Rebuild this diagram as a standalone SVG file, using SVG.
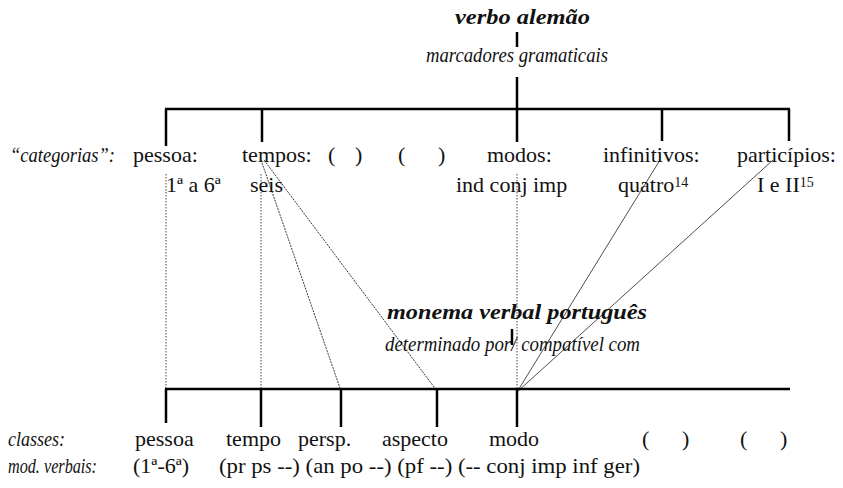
<svg xmlns="http://www.w3.org/2000/svg" width="843" height="488" viewBox="0 0 843 488">
<style>
text{font-family:"Liberation Serif","Times New Roman",serif;font-size:22px;fill:#111}
.it{font-style:italic}
.bi{font-style:italic;font-weight:bold}
.sup{font-size:14px}
.thick{stroke:#000;stroke-width:2.5;fill:none}
.dot{stroke:#444;stroke-width:1;stroke-dasharray:1.5,1.5;fill:none}
.diag{stroke:#222;stroke-width:0.8;fill:none}
.diagd{stroke:#222;stroke-width:0.9;stroke-dasharray:2,1;fill:none}
</style>
<rect width="843" height="488" fill="#fff"/>
<g id="connectors">
<line class="thick" x1="517" y1="32" x2="517" y2="47"/>
<line class="thick" x1="517" y1="77" x2="517" y2="142"/>
<line class="thick" x1="165" y1="109" x2="790" y2="109"/>
<line class="thick" x1="166" y1="109" x2="166" y2="146"/>
<line class="thick" x1="262" y1="109" x2="262" y2="142"/>
<line class="thick" x1="662" y1="109" x2="662" y2="141"/>
<line class="thick" x1="789" y1="109" x2="789" y2="141"/>
<line class="dot" x1="166" y1="174" x2="166" y2="389"/>
<line class="dot" x1="261" y1="174" x2="261" y2="389"/>
<line class="dot" x1="517" y1="174" x2="517" y2="389"/>
<line class="diagd" x1="261" y1="160" x2="341" y2="391"/>
<line class="diagd" x1="264" y1="160" x2="437" y2="391"/>
<line class="diag" x1="660" y1="160" x2="517" y2="392"/>
<line class="diag" x1="773" y1="160" x2="517" y2="392"/>
<line class="thick" x1="512" y1="329" x2="512" y2="345"/>
<line class="thick" x1="165" y1="389" x2="790" y2="389"/>
<line class="thick" x1="166" y1="389" x2="166" y2="423"/>
<line class="thick" x1="261" y1="389" x2="261" y2="427"/>
<line class="thick" x1="341" y1="389" x2="341" y2="427"/>
<line class="thick" x1="437" y1="389" x2="437" y2="427"/>
<line class="thick" x1="517" y1="389" x2="517" y2="427"/>
</g>
<g id="verbo-alemao">
<text class="bi" x="455" y="24" textLength="135" lengthAdjust="spacingAndGlyphs">verbo alemão</text>
<text class="it" x="426" y="62" textLength="182" lengthAdjust="spacingAndGlyphs">marcadores gramaticais</text>
</g>
<g id="categorias">
<text class="it" x="10" y="162" textLength="105" lengthAdjust="spacingAndGlyphs">“categorias”:</text>
<text x="133" y="162">pessoa:</text>
<text x="242" y="162">tempos:</text>
<text x="328" y="162">(</text>
<text x="355" y="162">)</text>
<text x="398" y="162">(</text>
<text x="438" y="162">)</text>
<text x="487" y="162">modos:</text>
<text x="603" y="162">infinitivos:</text>
<text x="737" y="162">particípios:</text>
<text x="166" y="192">1ª a 6ª</text>
<text x="250" y="192">seis</text>
<text x="456" y="192">ind conj imp</text>
<text x="618" y="192">quatro<tspan class="sup" dy="-5">14</tspan></text>
<text x="757" y="192">I e II<tspan class="sup" dy="-5">15</tspan></text>
</g>
<g id="monema">
<text class="bi" x="387" y="319" textLength="260" lengthAdjust="spacingAndGlyphs">monema verbal português</text>
<text class="it" x="385" y="351" textLength="255" lengthAdjust="spacingAndGlyphs">determinado por/ compatível com</text>
</g>
<g id="classes">
<text class="it" x="8" y="446" textLength="57" lengthAdjust="spacingAndGlyphs">classes:</text>
<text x="135" y="446">pessoa</text>
<text x="226" y="446">tempo</text>
<text x="298" y="446">persp.</text>
<text x="382" y="446">aspecto</text>
<text x="489" y="446">modo</text>
<text x="642" y="446">(</text>
<text x="682" y="446">)</text>
<text x="740" y="446">(</text>
<text x="780" y="446">)</text>
</g>
<g id="mod-verbais">
<text class="it" x="8" y="473" textLength="89" lengthAdjust="spacingAndGlyphs">mod. verbais:</text>
<text x="133" y="473">(1ª-6ª)</text>
<text x="219" y="473" textLength="421" lengthAdjust="spacingAndGlyphs">(pr ps --) (an po --) (pf --) (-- conj imp inf ger)</text>
</g>
</svg>
